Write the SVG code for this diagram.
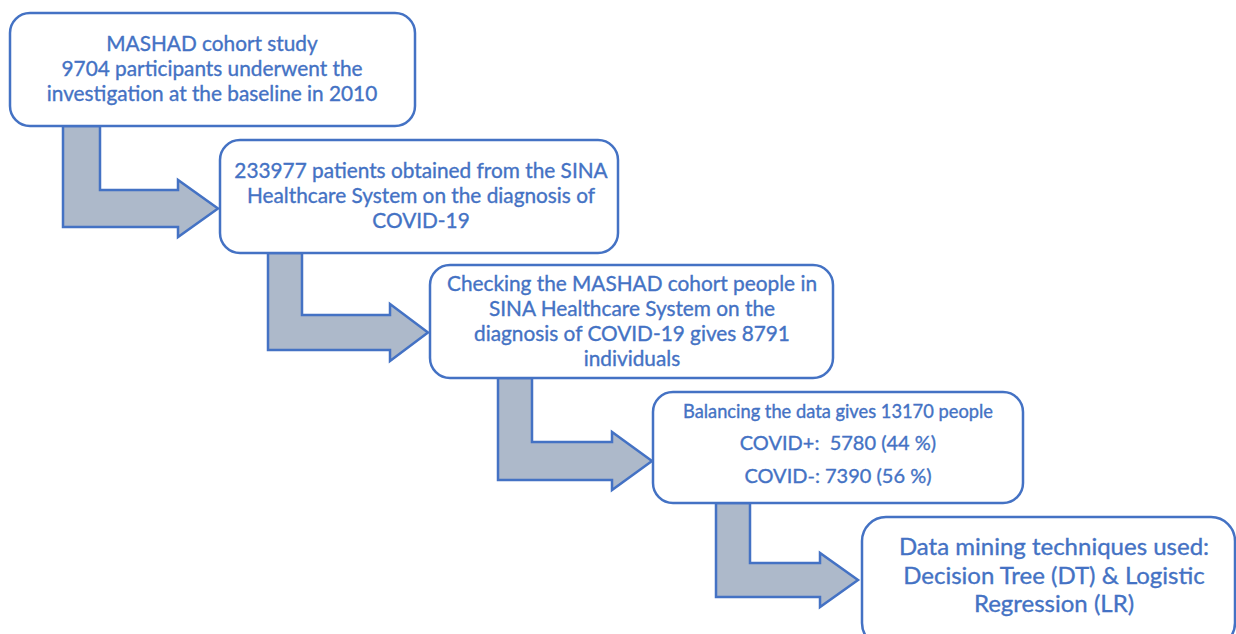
<svg xmlns="http://www.w3.org/2000/svg" width="1236" height="634" viewBox="0 0 1236 634">
  <style>
    .box { fill: #ffffff; stroke: #4472C4; stroke-width: 2.5; }
    .arrow { fill: #ADB9CA; stroke: #4472C4; stroke-width: 2.5; stroke-linejoin: miter; }
    .t { font-family: Lato, "Open Sans", sans-serif; fill: #4472C4; stroke: #4472C4; stroke-width: 0.35; text-anchor: middle; white-space: pre; }
    .t20 { font-size: 20.8px; }
    .t17 { font-size: 18.3px; }
    .t19 { font-size: 20px; }
    .t23 { font-size: 24px; }
  </style>
  <rect width="1236" height="634" fill="#ffffff"/>

  <!-- bent block arrows between the stages -->
  <g id="connectors">
    <polygon class="arrow" points="63,126 100,126 100,190 178,190 178,180 218,208.5 178,237 178,227 63,227"/>
    <polygon class="arrow" points="268,253 302,253 302,315 390,315 390,304 428,332.5 390,361 390,350 268,350"/>
    <polygon class="arrow" points="498,378 532,378 532,442 612,442 612,432 652,461 612,490 612,480 498,480"/>
    <polygon class="arrow" points="716,503 750,503 750,563 820,563 820,553 858,580 820,607 820,597 716,597"/>
  </g>

  <g id="node-cohort">
    <rect class="box" x="10" y="13" width="405" height="113" rx="20"/>
    <text class="t t20" x="212" y="51">MASHAD cohort study</text>
    <text class="t t20" x="212" y="76">9704 participants underwent the</text>
    <text class="t t20" x="212" y="101">investigation at the baseline in 2010</text>
  </g>

  <g id="node-sina">
    <rect class="box" x="220" y="140" width="398" height="113" rx="20"/>
    <text class="t t20" x="421" y="177.5">233977 patients obtained from the SINA</text>
    <text class="t t20" x="421" y="202.5">Healthcare System on the diagnosis of</text>
    <text class="t t20" x="421" y="227.5">COVID-19</text>
  </g>

  <g id="node-check">
    <rect class="box" x="430" y="265" width="403" height="113" rx="20"/>
    <text class="t t20" x="632" y="291">Checking the MASHAD cohort people in</text>
    <text class="t t20" x="632" y="316">SINA Healthcare System on the</text>
    <text class="t t20" x="632" y="341">diagnosis of COVID-19 gives 8791</text>
    <text class="t t20" x="632" y="366">individuals</text>
  </g>

  <g id="node-balance">
    <rect class="box" x="653" y="392" width="370" height="111" rx="20"/>
    <text class="t t17" x="838" y="418">Balancing the data gives 13170 people</text>
    <text class="t t19" x="838" y="450">COVID+:  5780 (44 %)</text>
    <text class="t t19" x="838" y="483">COVID-: 7390 (56 %)</text>
  </g>

  <g id="node-mining">
    <rect class="box" x="862" y="517" width="373" height="130" rx="24"/>
    <text class="t t23" x="1054" y="555">Data mining techniques used:</text>
    <text class="t t23" x="1054" y="583.5">Decision Tree (DT) &amp; Logistic</text>
    <text class="t t23" x="1054" y="612">Regression (LR)</text>
  </g>
</svg>
